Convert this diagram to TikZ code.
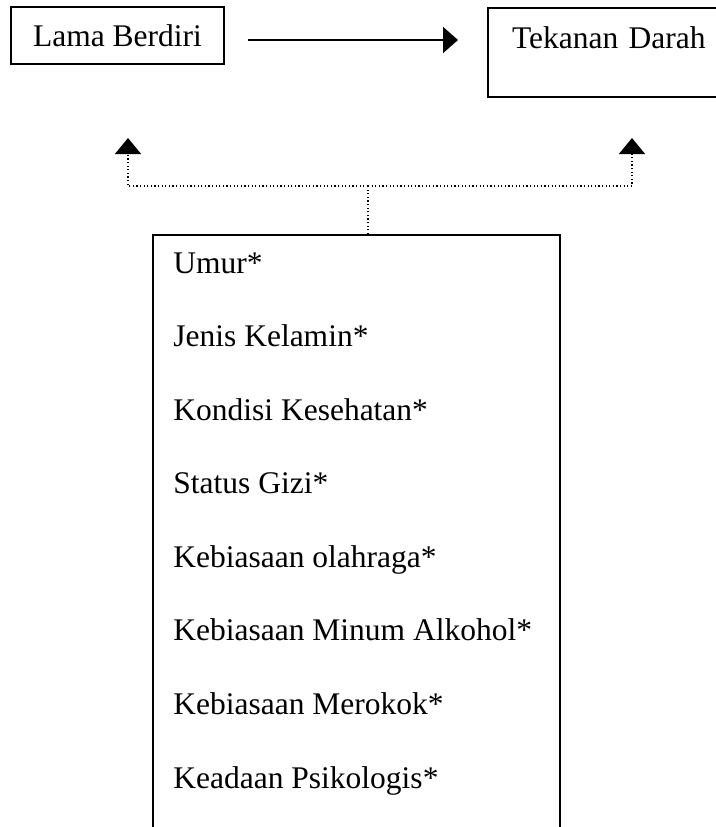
\documentclass[tikz,border=0pt]{standalone}
\usepackage{fontspec}
\setmainfont{Liberation Serif}
\usetikzlibrary{arrows.meta, positioning, calc}

\begin{document}
\begin{tikzpicture}[
    x=0.5pt, y=-0.5pt,
    font=\fontsize{15.75}{19}\selectfont,
    varbox/.style={rectangle, draw, line width=1pt, minimum width=106.5pt, minimum height=28.5pt, inner sep=0pt},
    outbox/.style={rectangle, draw, line width=1pt, anchor=north west, inner xsep=12pt, inner ysep=0pt, text width=112.5pt, align=left, text height=20pt, text depth=24.5pt},
    listbox/.style={rectangle, draw, line width=1pt, anchor=north west, minimum width=203.5pt, minimum height=340pt},
    item/.style={anchor=base west, inner sep=0pt},
    arrow/.style={-{Triangle[length=7.5pt, width=13pt]}, line width=1pt},
    dotarrow/.style={-{Triangle[length=8pt, width=13pt]}, line width=0.6pt, dash pattern=on 0.6pt off 1.2pt},
    dotline/.style={line width=0.6pt, dash pattern=on 0.6pt off 1.2pt},
]
\useasboundingbox (0,0) rectangle (716,827);
\clip (0,0) rectangle (716,827);
\node[varbox] (lama) at (117.5,35.5) {Lama Berdiri};
\node[outbox] (tekanan) at (487,7) {Tekanan Darah};
\node[listbox] (faktor) at (152,234) {};
\node[item] (umur) at (173,273) {Umur*};
\node[item] (kelamin) at (173,346.6) {Jenis Kelamin*};
\node[item] (kondisi) at (173,420.1) {Kondisi Kesehatan*};
\node[item] (gizi) at (173,493.7) {Status Gizi*};
\node[item] (olahraga) at (173,567.3) {Kebiasaan olahraga*};
\node[item] (alkohol) at (173,640.9) {Kebiasaan Minum Alkohol*};
\node[item] (merokok) at (173,714.4) {Kebiasaan Merokok*};
\node[item] (psikologis) at (173,788) {Keadaan Psikologis*};
\coordinate (split) at (368,186);
\coordinate (kiri) at (128,138);
\coordinate (kanan) at (632,138);
\draw[arrow] ([xshift=11.5pt, yshift=-2.25pt]lama.east) -- ([yshift=-2.25pt]lama.east -| {$(tekanan.west)+(-14.5pt,0)$});
\draw[dotline] (faktor.north -| split) -- (split);
\draw[dotarrow] (split) -| (kiri);
\draw[dotarrow] (split) -| (kanan);
\end{tikzpicture}
\end{document}
